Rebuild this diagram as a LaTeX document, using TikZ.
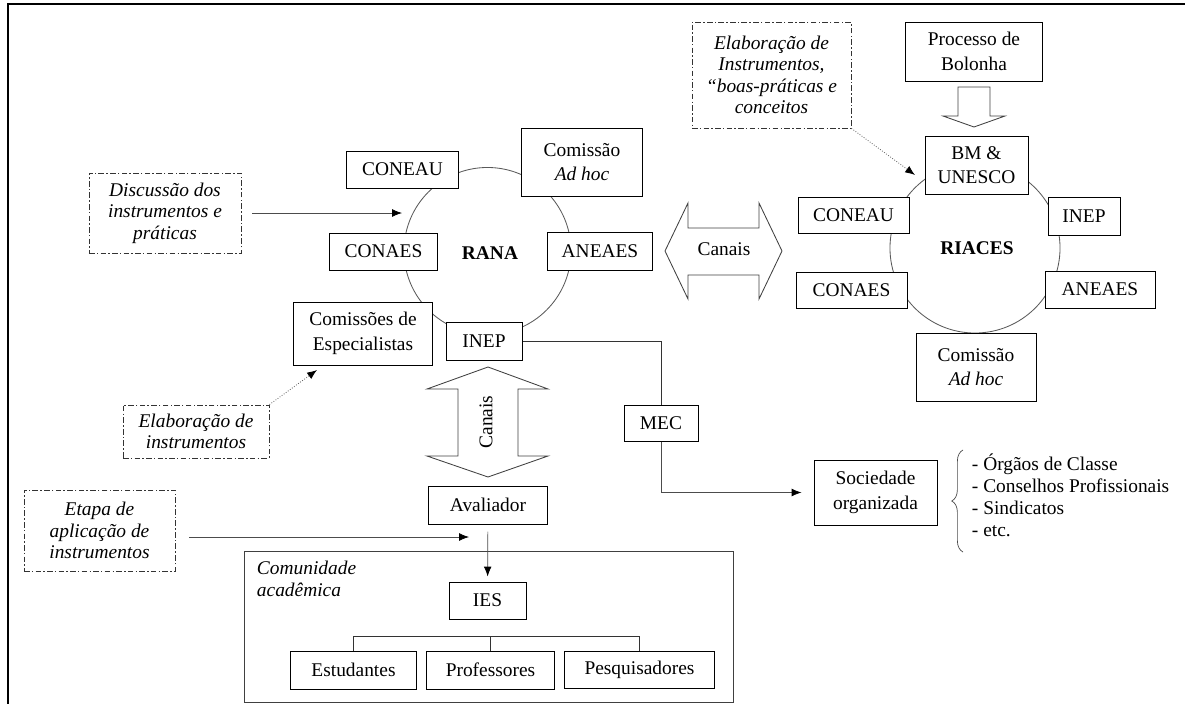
\documentclass[tikz,border=0pt]{standalone}
\usepackage{fontspec}
\setmainfont{Liberation Serif}
\usetikzlibrary{positioning,arrows.meta,decorations.pathreplacing}
\tikzset{%
  caixa/.style={
    draw=black,
    fill=white,
    line width=0.7pt,
    align=center,
    inner sep=2pt
  },
  nota/.style={
    draw=black!80,
    line width=0.6pt,
    dash pattern=on 4pt off 1.6pt on 1pt off 1.6pt,
    align=center,
    font=\fontsize{13.8}{15.3}\selectfont\itshape
  },
  seta/.style={->,draw=black!70,line width=0.5pt},
  pontilhada/.style={->,draw=black!60,line width=0.6pt,dash pattern=on 0.6pt off 1.2pt},
}

\begin{document}
\begin{tikzpicture}[x=0.025cm,y=-0.025cm,>={Latex[length=7pt,width=5.5pt,color=black]},font=\fontsize{13.8}{17.4}\selectfont]
  \tikzstyle{roda}=[draw=black!65,line width=0.6pt]
  \tikzstyle{largo}=[draw=black!75,line width=0.6pt,fill=white]
  \useasboundingbox (0,0) rectangle (1185,704);
  \draw[line width=1.5pt] (8,704) -- (8,4) -- (1185,4);

  % rede RANA
  \draw[roda] (487.5,251) circle (2.0875cm);
  \node (rana) at (490,253) {\bfseries RANA};
  \node[caixa,minimum width=2.775cm,minimum height=0.925cm] (coneauA) at (402.5,169.5) {CONEAU};
  \node[caixa,minimum width=2.675cm,minimum height=0.925cm] (conaesA) at (383.5,251.5) {CONAES};
  \node[caixa,minimum width=3cm,minimum height=1.7cm] (adhocA) at (582,162) {Comissão\\\textit{Ad hoc}};
  \node[caixa,minimum width=2.6cm,minimum height=0.95cm] (aneaesA) at (600,251) {ANEAES};
  \node[caixa,minimum width=3.45cm,minimum height=1.575cm] (especA) at (363,333.5) {Comissões de\\Especialistas};
  \node[caixa,minimum width=1.9cm,minimum height=0.95cm] (inepA) at (484,341) {INEP};

  % rede RIACES
  \draw[roda] (975,248) circle (2.125cm);
  \node (riaces) at (977,248) {\bfseries RIACES};
  \node[caixa,minimum width=3.4cm,minimum height=1.475cm] (processo) at (974,51.5) {Processo de\\Bolonha};
  \node[caixa,minimum width=2.575cm,minimum height=1.45cm] (bmU) at (976.5,165) {BM \&\\UNESCO};
  \node[caixa,minimum width=2.775cm,minimum height=0.9cm] (coneauB) at (853.5,215) {CONEAU};
  \node[caixa,minimum width=1.8cm,minimum height=0.95cm] (inepB) at (1084,216) {INEP};
  \node[caixa,minimum width=2.775cm,minimum height=0.9cm] (conaesB) at (851.5,290) {CONAES};
  \node[caixa,minimum width=2.75cm,minimum height=0.925cm] (aneaesB) at (1100,289.5) {ANEAES};
  \node[caixa,minimum width=3cm,minimum height=1.7cm] (adhocB) at (976,367) {Comissão\\\textit{Ad hoc}};

  % setas largas
  \draw[largo] (958,87) -- (990,87) -- (990,116) -- (1005,116) -- (974,127) -- (943,116) -- (958,116) -- cycle;
  \draw[largo] (665,251) -- (688,203) -- (688,228) -- (759,228) -- (759,203) -- (782,251)
    -- (759,299) -- (759,275) -- (688,275) -- (688,299) -- cycle;
  \node (canaisH) at (724,249) {Canais};
  \draw[largo] (488,367) -- (548,389) -- (518,389) -- (518,456) -- (548,456) -- (488,477)
    -- (427,456) -- (458,456) -- (458,389) -- (427,389) -- cycle;
  \node[rotate=90] (canaisV) at (486,422) {Canais};

  % notas
  \node[nota,minimum width=3.8cm,minimum height=2cm] (discussao) at (165,213) {Discussão dos\\instrumentos e\\práticas};
  \node[nota,minimum width=3.975cm,minimum height=2.65cm] (elabB) at (771.5,75) {Elaboração de\\Instrumentos,\\“boas-práticas e\\conceitos};
  \node[nota,minimum width=3.65cm,minimum height=1.325cm] (elabA) at (196,431.5) {Elaboração de\\instrumentos};
  \node[nota,minimum width=3.775cm,minimum height=2.025cm] (etapa) at (99.5,530.5) {Etapa de\\aplicação de\\instrumentos};

  \coordinate (alvoA) at (402,213);
  \coordinate (alvoB) at (915,175);
  \coordinate (alvoC) at (317,370);
  \coordinate (alvoD) at (469,537);
  \draw[seta,shorten <=0.275cm] (discussao.east) -- (alvoA);
  \draw[pontilhada] (elabB.south east) -- (alvoB);
  \draw[pontilhada] (elabA.north east) -- (alvoC);
  \draw[seta,shorten <=0.35cm] (etapa.east |- alvoD) -- (alvoD);

  % MEC e sociedade
  \node[caixa,minimum width=1.85cm,minimum height=0.9cm] (mec) at (661,423) {MEC};
  \node[caixa,minimum width=3.075cm,minimum height=1.625cm] (sociedade) at (875.5,492.5) {Sociedade\\organizada};
  \draw[draw=black!80,line width=0.6pt] (inepA.east) -| (mec.north);
  \draw[seta,shorten >=0.3cm] (mec.south) |- (sociedade.west);
  \coordinate (chaveBaixo) at (963,552);
  \coordinate (chaveTopo) at (963,450);
  \draw[draw=black!70,line width=0.5pt,decorate,decoration={brace,amplitude=8pt}] (chaveBaixo) -- (chaveTopo);
  \node[anchor=west,align=left,font=\fontsize{13.8}{15.6}\selectfont] (lista) at (967,495)
    {- Órgãos de Classe\\- Conselhos Profissionais\\- Sindicatos\\- etc.};

  % avaliador e comunidade
  \node[caixa,minimum width=2.95cm,minimum height=0.95cm] (avaliador) at (488,505) {Avaliador};
  \node[draw=black!75,line width=0.7pt,minimum width=12.2cm,minimum height=3.75cm] (comunidade) at (489,627) {};
  \node[anchor=north west,align=left,font=\fontsize{13.8}{15.6}\selectfont\itshape] (rotulo) at (252,556) {Comunidade\\acadêmica};
  \node[caixa,minimum width=1.925cm,minimum height=0.925cm] (ies) at (487.5,600.5) {IES};
  \draw[seta,shorten <=0.175cm,shorten >=0.125cm] (avaliador) -- (ies);
  \node[caixa,minimum width=3.125cm,minimum height=0.95cm] (estudantes) at (353.5,670) {Estudantes};
  \node[caixa,minimum width=3.175cm,minimum height=0.95cm] (professores) at (490.5,670) {Professores};
  \node[caixa,minimum width=3.725cm,minimum height=0.925cm] (pesquisadores) at (639.5,669.5) {Pesquisadores};
  \draw[draw=black!80,line width=0.6pt] (estudantes.north) -- ++(0,-14) -| (pesquisadores.north);
  \draw[draw=black!80,line width=0.6pt] (professores.north) -- ++(0,-14);
\end{tikzpicture}
\end{document}
